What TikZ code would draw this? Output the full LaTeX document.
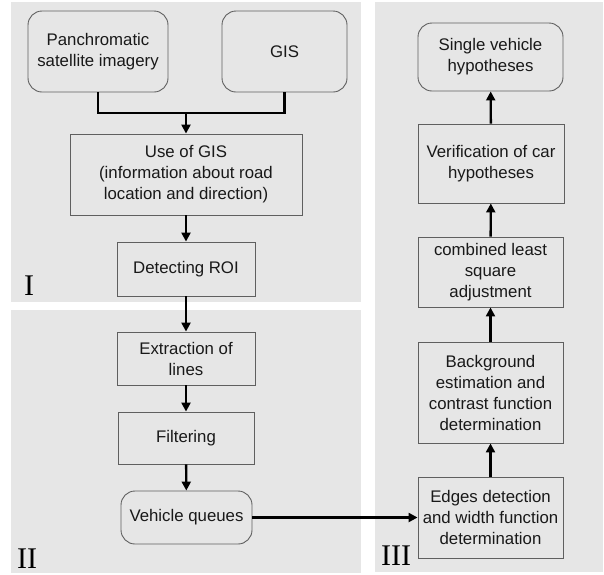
\documentclass[tikz,border=0pt]{standalone}
\usepackage{fontspec}
\setmainfont{Liberation Sans}
\newfontfamily\labfont{Liberation Serif}
\usetikzlibrary{arrows.meta}
\definecolor{panelgray}{RGB}{230,230,230}
\definecolor{boxline}{RGB}{95,95,95}
\definecolor{txt}{RGB}{25,25,25}
\begin{document}
\begin{tikzpicture}[x=1pt,y=-1pt,
  panel/.style={fill=panelgray,draw=none},
  box/.style={draw=boxline,line width=0.9pt,fill=panelgray,align=center,inner sep=0pt,
    font=\fontsize{16.8}{21}\selectfont,text=txt},
  rbox/.style={box,rounded corners=14pt},
  conn/.style={line width=2.4pt,black},
  arr/.style={conn,-{Triangle[length=9pt,width=9pt]}},
  plabel/.style={font=\labfont\fontsize{30}{30}\selectfont,anchor=base west,inner sep=0pt,text=black}]
\useasboundingbox (0,0) rectangle (604,574);
\fill[white] (0,0) rectangle (604,574);
% panels
\path[panel] (11,2) rectangle (361,302);
\path[panel] (11,310) rectangle (361,573);
\path[panel] (375,2) rectangle (603,572);
\node[plabel] (lI) at (24,295) {I};
\node[plabel] (lII) at (17,568) {II};
\node[plabel] (lIII) at (381,565) {III};
% panel I
\node[rbox,minimum width=140pt,minimum height=81pt] (panch) at (98,51.5) {Panchromatic\\satellite imagery};
\node[rbox,minimum width=125pt,minimum height=81pt] (gis) at (284.5,51.5) {GIS};
\node[box,minimum width=232pt,minimum height=81pt] (use) at (186,174.5) {Use of GIS\\(information about road\\location and direction)};
\node[box,minimum width=138pt,minimum height=54pt] (roi) at (186,269) {Detecting ROI};
% panel II
\node[box,minimum width=138pt,minimum height=53pt] (extr) at (186,358.5) {Extraction of\\lines};
\node[box,minimum width=136pt,minimum height=52pt] (filt) at (186,438) {Filtering};
\node[rbox,minimum width=131pt,minimum height=53pt] (vq) at (186.5,517.5) {Vehicle queues};
% panel III
\node[rbox,minimum width=145pt,minimum height=68pt] (single) at (490.5,57) {Single vehicle\\hypotheses};
\node[box,minimum width=146pt,minimum height=79pt] (verif) at (491,163.5) {Verification of car\\hypotheses};
\node[box,minimum width=145pt,minimum height=70pt] (comb) at (490.5,272) {combined least\\square\\adjustment};
\node[box,minimum width=145pt,minimum height=101pt] (back) at (490.5,392.5) {Background\\estimation and\\contrast function\\determination};
\node[box,minimum width=145pt,minimum height=81pt] (edges) at (490.5,517.5) {Edges detection\\and width function\\determination};
% connectors
\coordinate (j) at (186,113);
\draw[conn] (panch.south) |- (j) -| (gis.south);
\draw[arr] (j) -- (use.north);
\draw[arr] (use) -- (roi);
\draw[arr] (roi) -- (extr);
\draw[arr] (extr) -- (filt);
\draw[arr] (filt) -- (vq);
\draw[arr] (vq.east) -- (edges.west);
\draw[arr] (edges) -- (back);
\draw[arr] (back) -- (comb);
\draw[arr] (comb) -- (verif);
\draw[arr] (verif) -- (single);
\end{tikzpicture}
\end{document}
